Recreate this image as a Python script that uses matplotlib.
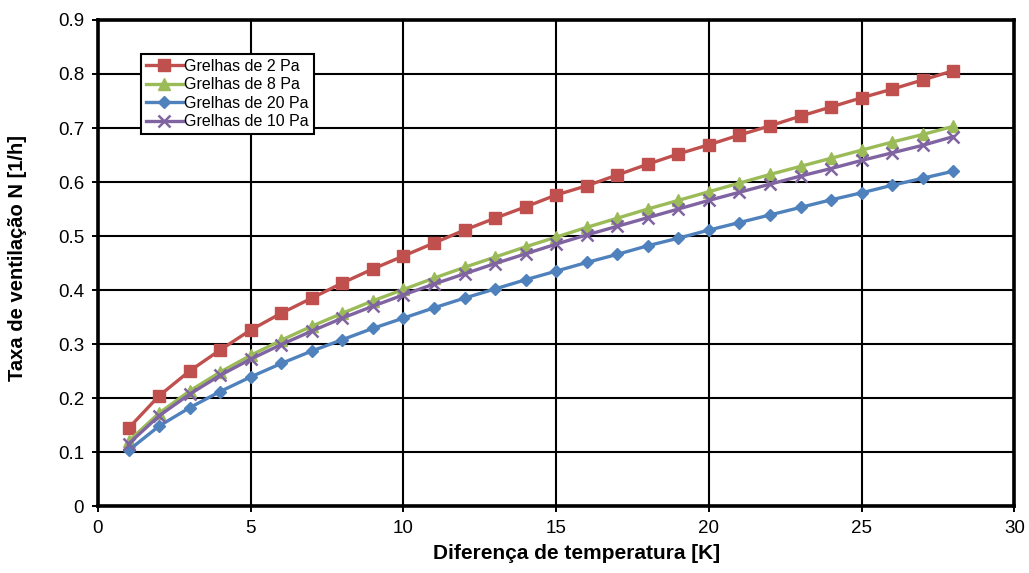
import matplotlib
matplotlib.use("Agg")
import matplotlib.pyplot as plt

plt.rcParams['font.family'] = ['Liberation Sans', 'DejaVu Sans']

x = list(range(1, 29))
grelhas_2 = [0.144, 0.204, 0.250, 0.289, 0.326, 0.357, 0.385, 0.413, 0.439, 0.463,
             0.487, 0.511, 0.533, 0.554, 0.576, 0.593, 0.613, 0.633, 0.652, 0.669,
             0.687, 0.704, 0.722, 0.739, 0.756, 0.772, 0.789, 0.806]
grelhas_8 = [0.120, 0.172, 0.213, 0.248, 0.279, 0.307, 0.333, 0.357, 0.380, 0.401,
             0.422, 0.442, 0.461, 0.480, 0.498, 0.516, 0.533, 0.550, 0.566, 0.582,
             0.598, 0.614, 0.629, 0.644, 0.659, 0.674, 0.688, 0.703]
grelhas_20 = [0.103, 0.148, 0.182, 0.212, 0.239, 0.264, 0.287, 0.308, 0.329, 0.348,
              0.367, 0.385, 0.402, 0.419, 0.435, 0.451, 0.466, 0.482, 0.496, 0.511,
              0.525, 0.539, 0.553, 0.567, 0.580, 0.594, 0.607, 0.620]
grelhas_10 = [0.115, 0.167, 0.207, 0.242, 0.272, 0.299, 0.324, 0.348, 0.370, 0.391,
              0.411, 0.430, 0.449, 0.467, 0.485, 0.502, 0.518, 0.534, 0.550, 0.566,
              0.581, 0.596, 0.611, 0.625, 0.640, 0.654, 0.668, 0.684]

labels = ["Grelhas de 2 Pa", "Grelhas de 8 Pa", "Grelhas de 20 Pa", "Grelhas de 10 Pa"]
xticks = [0, 5, 10, 15, 20, 25, 30]
yticks = [0, 0.1, 0.2, 0.3, 0.4, 0.5, 0.6, 0.7, 0.8, 0.9]

fig = plt.figure(figsize=(10.29, 5.73), dpi=100)
ax = fig.add_axes([0.0952, 0.1169, 0.8906, 0.8482])

ax.plot(x, grelhas_2, color='#C0504D', marker='s', markersize=9, lw=2.4, label=labels[0], zorder=3)
ax.plot(x, grelhas_8, color='#9BBB59', marker='^', markersize=9, lw=2.4, label=labels[1], zorder=3)
ax.plot(x, grelhas_20, color='#4F81BD', marker='D', markersize=6.5, lw=2.4, label=labels[2], zorder=3)
ax.plot(x, grelhas_10, color='#8064A2', marker='x', markersize=9, mew=1.8, lw=2.4, label=labels[3], zorder=3)

ax.set_xlim(0, 30)
ax.set_ylim(0, 0.9)
ax.set_xticks(xticks)
ax.set_yticks(yticks)
ax.set_xticklabels([str(v) for v in xticks])
ax.set_yticklabels(['0'] + [f"{v:.1f}" for v in yticks[1:]])
ax.grid(True, color='black', lw=1.5)
ax.set_axisbelow(True)
for s in ax.spines.values():
    s.set_linewidth(2.6)
    s.set_color('black')
ax.tick_params(direction='out', length=4, width=1.4, labelsize=13.5, pad=6)

ax.set_xlabel('Diferença de temperatura [K]', fontsize=15, fontweight='bold')
ax.set_ylabel('Taxa de ventilação N [1/h]', fontsize=14.5, fontweight='bold')
ax.xaxis.set_label_coords(0.522, -0.079)
ax.yaxis.set_label_coords(-0.077, 0.51)

leg = ax.legend(loc='upper left', bbox_to_anchor=(0.047, 0.93), fontsize=11.5,
                frameon=True, fancybox=False, framealpha=1, edgecolor='black',
                handlelength=2.3, handletextpad=0.1, borderpad=0.3, labelspacing=0.22,
                borderaxespad=0)
leg.get_frame().set_linewidth(1.5)

fig.savefig('out.png', dpi=100)
